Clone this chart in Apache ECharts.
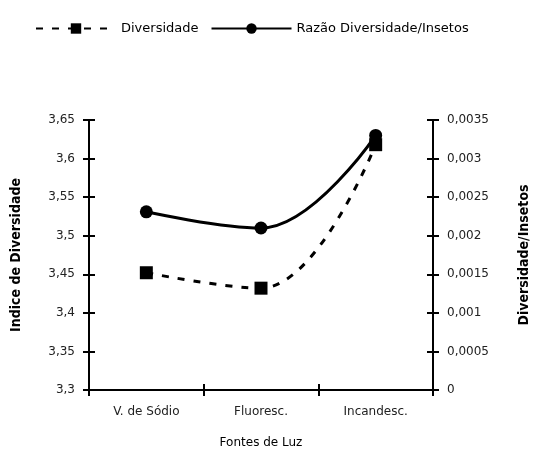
<!DOCTYPE html>
<html><head><meta charset="utf-8">
<script src="https://cdn.jsdelivr.net/npm/echarts@6/dist/echarts.min.js"></script>
<style>html,body{margin:0;padding:0;background:#fff}#c{width:537px;height:452px}</style>
</head><body><div id="c"></div>
<script>
const categories = ['V. de Sódio', 'Fluoresc.', 'Incandesc.'];
const diversidade = [3.452, 3.432, 3.618];
const razao = [0.00231, 0.0021, 0.0033];
const leftTicks = {min: 3.3, max: 3.65, interval: 0.05};
const rightTicks = {min: 0, max: 0.0035, interval: 0.0005};

const fmt = v => String(+v.toFixed(5)).replace('.', ',');
const font = 'DejaVu Sans';
const chart = echarts.init(document.getElementById('c'));
const lbl = {color: '#222', fontFamily: font, fontSize: 12};
const nameStyle = {fontFamily: 'Liberation Sans Narrow, DejaVu Sans Condensed, DejaVu Sans', fontWeight: 'bold', fontSize: 14, color: '#000'};
chart.setOption({
  animation: false,
  backgroundColor: '#fff',
  grid: {left: 89, right: 104, top: 120, bottom: 62, containLabel: false, outerBoundsMode: 'none'},
  legend: {
    top: 17, left: 30, itemWidth: 80, itemHeight: 13, itemGap: 12,
    textStyle: {fontFamily: font, fontSize: 13, color: '#000'},
    data: ['Diversidade', 'Razão Diversidade/Insetos']
  },
  xAxis: [{
    type: 'category', data: categories, boundaryGap: true,
    axisLine: {lineStyle: {color: '#000', width: 2}},
    axisTick: {show: true, length: 6, interval: 0, lineStyle: {color: '#000', width: 2}},
    axisLabel: {...lbl, margin: 16},
    name: 'Fontes de Luz', nameLocation: 'middle', nameGap: 47,
    nameTextStyle: {fontFamily: font, fontSize: 12, color: '#000'}
  }, {
    type: 'category', data: categories, position: 'bottom', boundaryGap: true,
    axisLine: {show: false}, axisLabel: {show: false},
    axisTick: {show: true, inside: true, length: 6, interval: 0, lineStyle: {color: '#000', width: 2}}
  }],
  yAxis: [{
    type: 'value', ...leftTicks, position: 'left',
    axisLine: {show: true, lineStyle: {color: '#000', width: 2}},
    axisTick: {show: true, length: 6, lineStyle: {color: '#000', width: 2}},
    splitLine: {show: false},
    axisLabel: {...lbl, margin: 14, formatter: fmt},
    name: 'Indice de Diversidade', nameLocation: 'middle', nameGap: 66, nameRotate: 90,
    nameTextStyle: nameStyle
  }, {
    type: 'value', ...rightTicks, position: 'right',
    axisLine: {show: true, lineStyle: {color: '#000', width: 2}},
    axisTick: {show: true, length: 6, lineStyle: {color: '#000', width: 2}},
    splitLine: {show: false},
    axisLabel: {...lbl, margin: 14, formatter: fmt},
    name: 'Diversidade/Insetos', nameLocation: 'middle', nameGap: 84, nameRotate: 90,
    nameTextStyle: nameStyle
  }, {
    type: 'value', ...leftTicks, position: 'left',
    axisLine: {show: false}, axisLabel: {show: false}, splitLine: {show: false},
    axisTick: {show: true, inside: true, length: 6, lineStyle: {color: '#000', width: 2}}
  }, {
    type: 'value', ...rightTicks, position: 'right',
    axisLine: {show: false}, axisLabel: {show: false}, splitLine: {show: false},
    axisTick: {show: true, inside: true, length: 6, lineStyle: {color: '#000', width: 2}}
  }],
  series: [{
    name: 'Diversidade', type: 'line', yAxisIndex: 0, data: diversidade, smooth: 0.4,
    symbol: 'rect', symbolSize: 13,
    lineStyle: {color: '#000', width: 3, type: [7, 9]},
    itemStyle: {color: '#000'}
  }, {
    name: 'Razão Diversidade/Insetos', type: 'line', yAxisIndex: 1, data: razao, smooth: 0.4,
    symbol: 'circle', symbolSize: 13,
    lineStyle: {color: '#000', width: 3},
    itemStyle: {color: '#000'}
  }]
});
</script></body></html>
